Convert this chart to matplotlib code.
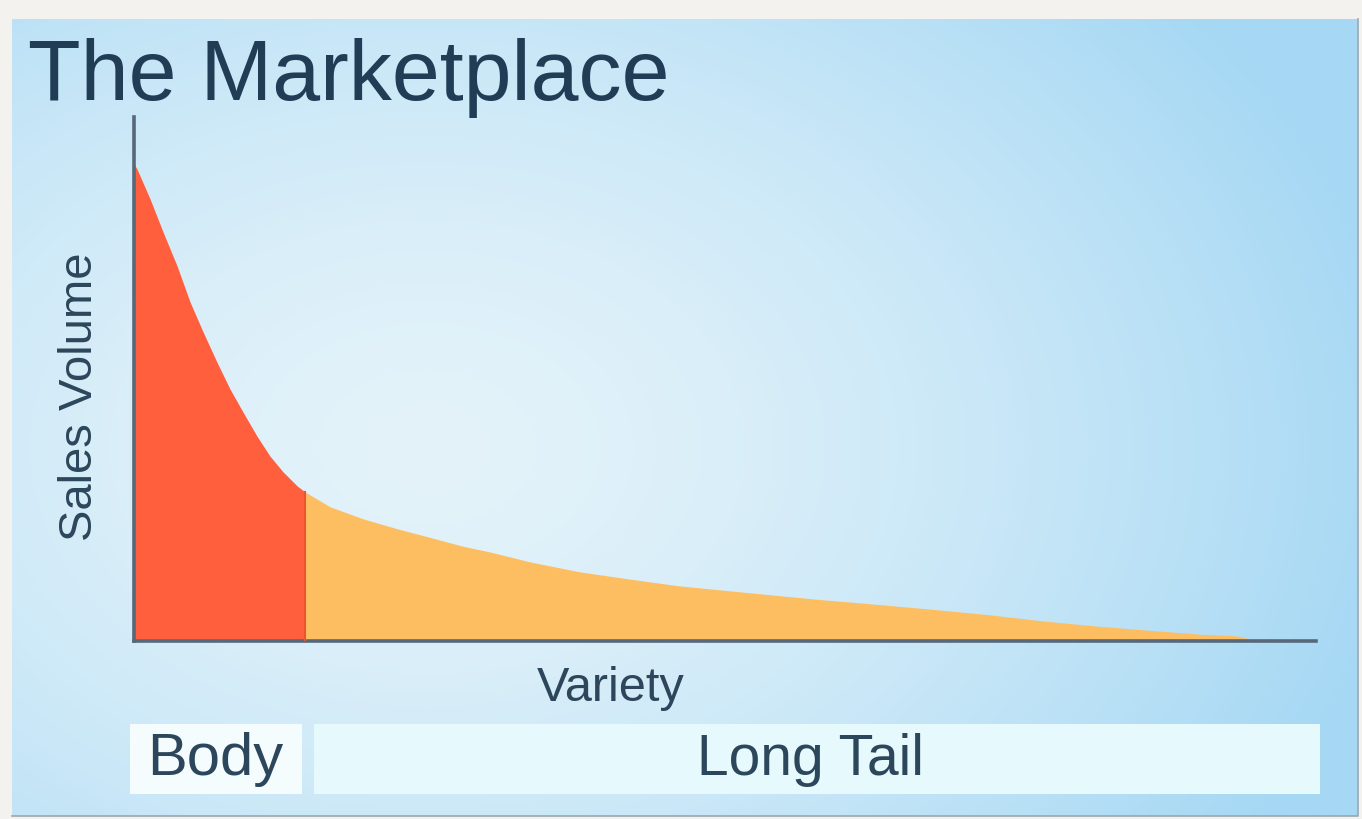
import numpy as np
import matplotlib
matplotlib.use("Agg")
import matplotlib.pyplot as plt
from matplotlib.patches import Rectangle

plt.rcParams['font.family'] = ['Liberation Sans', 'DejaVu Sans']

# curve (variety 0..100, sales volume 0..100)
variety = [0, 0.25, 1.35, 2.45, 3.64, 4.74, 5.84, 7.02, 8.12, 9.22, 10.4,
           11.5, 12.6, 13.8, 14.5, 16.6, 19.4, 22.3, 25.0, 27.8, 30.1, 33.5,
           37.7, 42.0, 46.2, 52.1, 57.6, 62.3, 67.3, 72.4, 77.0, 81.7, 86.7,
           90.2, 93.2, 94.8]
sales = [91.0, 90.1, 84.4, 78.1, 71.6, 64.7, 59.0, 53.2, 48.1, 43.7, 39.1,
         35.3, 32.3, 29.6, 28.4, 25.6, 23.3, 21.4, 19.8, 18.1, 17.0, 15.1,
         13.2, 11.8, 10.5, 9.2, 8.0, 7.1, 6.1, 5.0, 3.8, 2.8, 1.9,
         1.3, 1.0, 0.2]
body_end = 14.5
segments = ["Body", "Long Tail"]

W, H = 1362, 820
fig = plt.figure(figsize=(W / 100, H / 100), dpi=100)

# background: pale frame + soft blue gradient panel
bg = fig.add_axes([0, 0, 1, 1])
bg.set_xlim(0, W)
bg.set_ylim(H, 0)
bg.axis('off')
bg.add_patch(Rectangle((0, 0), W, H, color='#f4f2ef'))
yy, xx = np.mgrid[0:H, 0:W]
d = np.sqrt(((xx - 420) / 1100.0) ** 2 + ((yy - 440) / 800.0) ** 2)
t = np.clip(d / 0.9, 0, 1)[..., None] ** 1.5
c0 = np.array([0xe4, 0xf3, 0xfa]) / 255
c1 = np.array([0xa6, 0xd8, 0xf4]) / 255
grad = c0 * (1 - t) + c1 * t
bg.imshow(grad, extent=[12, 1358, 817, 20], aspect='auto', zorder=1)
bg.plot([1358, 1358, 12], [20, 817, 817], color='#9aa7b0', lw=1.2, zorder=2)

ax = fig.add_axes([134 / W, (H - 642) / H, (1316 - 134) / W, (642 - 118) / H])
ax.patch.set_alpha(0)
ax.set_xlim(0, 100)
ax.set_ylim(0, 100)
ax.set_xticks([])
ax.set_yticks([])
for side in ['top', 'right']:
    ax.spines[side].set_visible(False)
for side in ['left', 'bottom']:
    ax.spines[side].set_color('#56687a')
    ax.spines[side].set_linewidth(2.6)

x = np.array(variety)
y = np.array(sales)
body = x <= body_end
tail = x >= body_end
ax.fill_between(x[body], 0, y[body], color='#ff5f3c', lw=0, zorder=2)
ax.fill_between(x[tail], 0, y[tail], color='#fdbe62', lw=0, zorder=2)
ax.plot([body_end, body_end], [0, y[x == body_end][0]], color='#e8562f', lw=1.5, zorder=3)

txt = '#2c475c'
ax.text(40.3, -8.8, "Variety", ha='center', va='center', fontsize=35, color=txt)
ax.text(-4.6, 46.8, "Sales Volume", ha='center', va='center', rotation=90,
        fontsize=34, color=txt, clip_on=False)

# segment boxes under the axis
boxes = [(-0.35, body_end - 0.25), (body_end + 0.7, 100.3)]
box_colors = ['#f4fcfd', '#e6f9fc']
label_x = [6.9, 57.2]
label_size = [43, 41]
for (x0, x1), name, fc, lx, fs in zip(boxes, segments, box_colors, label_x, label_size):
    ax.add_patch(Rectangle((x0, -29.2), x1 - x0, 13.4, facecolor=fc,
                           edgecolor='none', clip_on=False, zorder=2))
    ax.text(lx, -22.5, name, ha='center', va='center', fontsize=fs,
            color=txt, zorder=3)

fig.text(28 / W, 1 - 100 / H, "The Marketplace", ha='left', va='baseline',
         fontsize=62, color='#213d56')

fig.savefig("out.png", dpi=100)
